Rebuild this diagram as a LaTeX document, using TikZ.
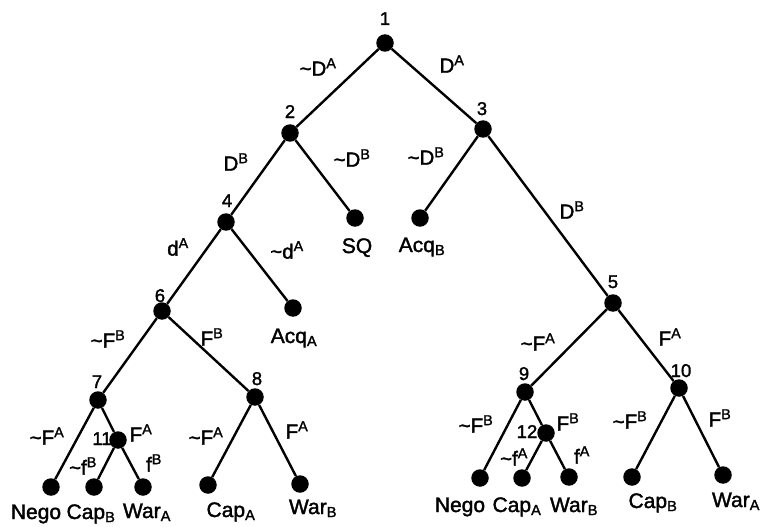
\documentclass[tikz,border=0pt]{standalone}
\usepackage{fontspec}
\setmainfont{Liberation Sans}[FakeBold=1.6]
\newcommand{\tl}{\textasciitilde}
\begin{document}
\begin{tikzpicture}[x=1pt,y=-1pt,
  dot/.style={circle,fill=black,inner sep=0pt,minimum size=17.5pt},
  edge/.style={line width=2.4pt},
  lab/.style={font=\fontsize{20.5}{22}\selectfont,inner sep=0pt,anchor=center},
  num/.style={font=\fontsize{18.5}{20}\selectfont,inner sep=0pt,anchor=base},
  leaf/.style={font=\fontsize{21}{23}\selectfont,inner sep=0pt,anchor=base}]
\useasboundingbox (0,0) rectangle (764,527);
% decision nodes
\node[dot] (n1) at (385,43) {};
\node[dot] (n2) at (290,133) {};
\node[dot] (n3) at (483,129) {};
\node[dot] (n4) at (226,222) {};
\node[dot] (n5) at (613,303) {};
\node[dot] (n6) at (162,311) {};
\node[dot] (n7) at (98,400) {};
\node[dot] (n8) at (255,397) {};
\node[dot] (n9) at (525,392) {};
\node[dot] (n10) at (679,388) {};
\node[dot] (n11) at (118,440) {};
\node[dot] (n12) at (546,433) {};
% terminal nodes
\node[dot] (sq) at (355,218) {};
\node[dot] (acqb) at (420,218) {};
\node[dot] (acqa) at (293,308) {};
\node[dot] (t1) at (51,487) {};
\node[dot] (t2) at (94,487) {};
\node[dot] (t3) at (143,487) {};
\node[dot] (t4) at (208,485) {};
\node[dot] (t5) at (300,484) {};
\node[dot] (t6) at (480,478) {};
\node[dot] (t7) at (522,478) {};
\node[dot] (t8) at (569,477) {};
\node[dot] (t9) at (632,477) {};
\node[dot] (t10) at (723,475) {};
% connectors
\draw[edge] (n1) -- (n2);
\draw[edge] (n1) -- (n3);
\draw[edge] (n2) -- (n4);
\draw[edge] (n2) -- (sq);
\draw[edge] (n3) -- (acqb);
\draw[edge] (n3) -- (n5);
\draw[edge] (n4) -- (n6);
\draw[edge] (n4) -- (acqa);
\draw[edge] (n6) -- (n7);
\draw[edge] (n6) -- (n8);
\draw[edge] (n7) -- (t1);
\draw[edge] (n7) -- (n11);
\draw[edge] (n11) -- (t2);
\draw[edge] (n11) -- (t3);
\draw[edge] (n8) -- (t4);
\draw[edge] (n8) -- (t5);
\draw[edge] (n5) -- (n9);
\draw[edge] (n5) -- (n10);
\draw[edge] (n9) -- (t6);
\draw[edge] (n9) -- (n12);
\draw[edge] (n12) -- (t7);
\draw[edge] (n12) -- (t8);
\draw[edge] (n10) -- (t9);
\draw[edge] (n10) -- (t10);
% node numbers
\node[num] (k1) at (385,25) {1};
\node[num] (k2) at (290,118) {2};
\node[num] (k3) at (482,115) {3};
\node[num] (k4) at (227,207) {4};
\node[num] (k5) at (613,288) {5};
\node[num] (k6) at (160,302) {6};
\node[num] (k7) at (97,388) {7};
\node[num] (k8) at (257,385) {8};
\node[num] (k9) at (524,380) {9};
\node[num] (k10) at (681,377) {10};
\node[num] (k11) at (102,445) {11};
\node[num] (k12) at (527,438) {12};
% edge labels
\node[lab] (e12) at (318,67) {\tl D\textsuperscript{A}};
\node[lab] (e13) at (452,64) {D\textsuperscript{A}};
\node[lab] (e24) at (236,162) {D\textsuperscript{B}};
\node[lab] (e2s) at (352,158) {\tl D\textsuperscript{B}};
\node[lab] (e3a) at (426,156) {\tl D\textsuperscript{B}};
\node[lab] (e35) at (572,210) {D\textsuperscript{B}};
\node[lab] (e46) at (178,247) {d\textsuperscript{A}};
\node[lab] (e4a) at (287,250) {\tl d\textsuperscript{A}};
\node[lab] (e67) at (108,339) {\tl F\textsuperscript{B}};
\node[lab] (e68) at (212,337) {F\textsuperscript{B}};
\node[lab] (e59) at (538,342) {\tl F\textsuperscript{A}};
\node[lab] (e510) at (670,337) {F\textsuperscript{A}};
\node[lab] (e7t) at (47,436) {\tl F\textsuperscript{A}};
\node[lab] (e711) at (141,433) {F\textsuperscript{A}};
\node[lab] (e11a) at (83,466) {\tl f\textsuperscript{B}};
\node[lab] (e11b) at (154,463) {f\textsuperscript{B}};
\node[lab] (e8a) at (206,436) {\tl F\textsuperscript{A}};
\node[lab] (e8b) at (297,430) {F\textsuperscript{A}};
\node[lab] (e9t) at (476,424) {\tl F\textsuperscript{B}};
\node[lab] (e912) at (568,422) {F\textsuperscript{B}};
\node[lab] (e12a) at (514,457) {\tl f\textsuperscript{A}};
\node[lab] (e12b) at (582,455) {f\textsuperscript{A}};
\node[lab] (e10a) at (630,420) {\tl F\textsuperscript{B}};
\node[lab] (e10b) at (720,418) {F\textsuperscript{B}};
% outcome labels
\node[leaf] (osq) at (357,253) {SQ};
\node[leaf] (oacqb) at (422,252) {Acq\textsubscript{B}};
\node[leaf] (oacqa) at (294,343) {Acq\textsubscript{A}};
\node[leaf] (o1) at (36,519) {Nego};
\node[leaf] (o2) at (91,519) {Cap\textsubscript{B}};
\node[leaf] (o3) at (147,518) {War\textsubscript{A}};
\node[leaf] (o4) at (231,517) {Cap\textsubscript{A}};
\node[leaf] (o5) at (313,514) {War\textsubscript{B}};
\node[leaf] (o6) at (460,512) {Nego};
\node[leaf] (o7) at (517,512) {Cap\textsubscript{A}};
\node[leaf] (o8) at (574,512) {War\textsubscript{B}};
\node[leaf] (o9) at (653,508) {Cap\textsubscript{B}};
\node[leaf] (o10) at (736,507) {War\textsubscript{A}};
\end{tikzpicture}
\end{document}
